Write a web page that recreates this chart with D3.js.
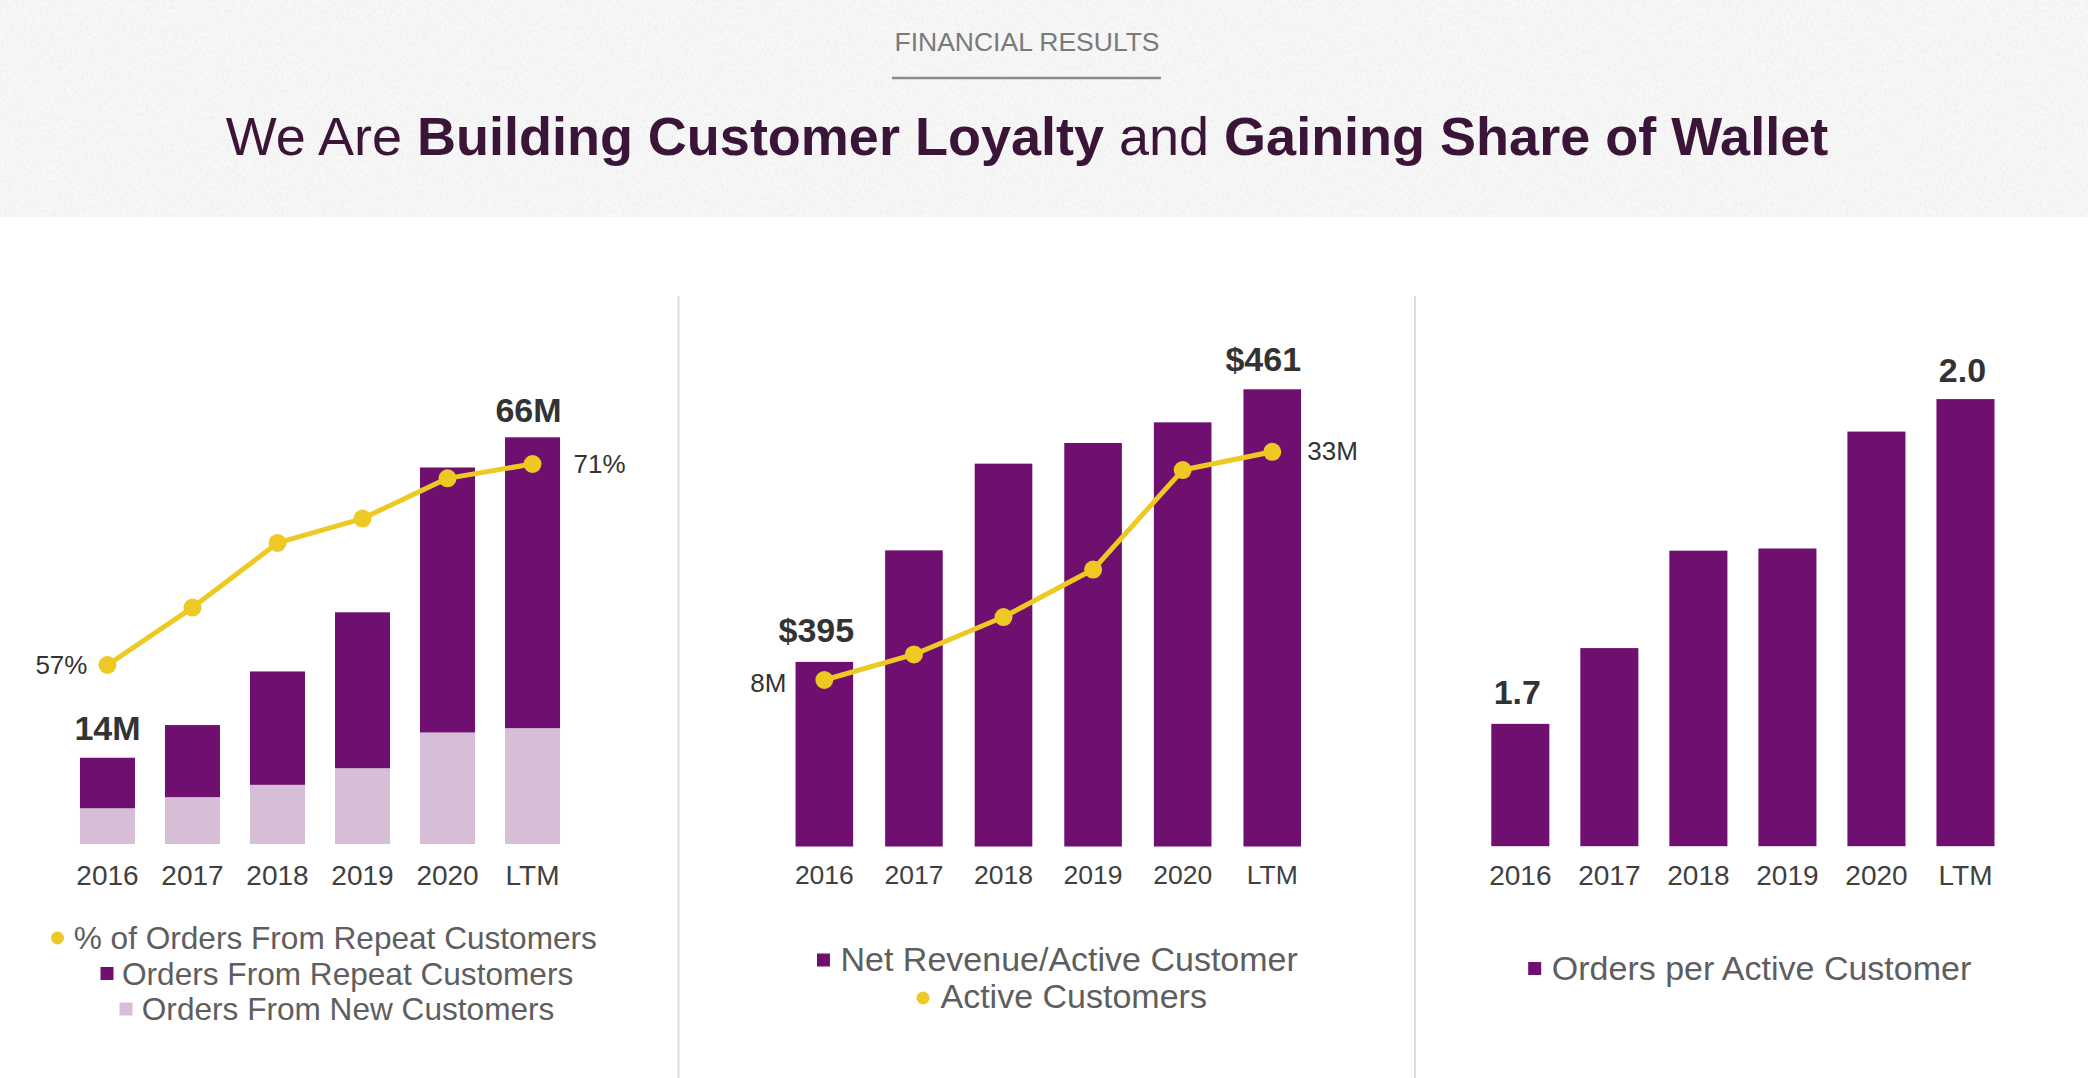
<!DOCTYPE html>
<html>
<head>
<meta charset="utf-8">
<script src="https://cdn.jsdelivr.net/npm/d3@7"></script>
<style>
  html, body { margin: 0; padding: 0; background: #ffffff; }
  svg { display: block; font-family: "Liberation Sans", Arial, Helvetica, sans-serif; }
</style>
</head>
<body>
<svg id="chart" width="2088" height="1078"></svg>
<script>
// ---------- DATA ----------
const years = ["2016", "2017", "2018", "2019", "2020", "LTM"];

// Panel 1: orders (millions) and % from repeat customers
const ordersRepeat = [8.2, 11.7, 18.4, 25.3, 43.0, 47.2];
const ordersNew = [5.8, 7.6, 9.6, 12.3, 18.1, 18.8];
const repeatShare = [57, 61, 65.5, 67.2, 70, 71];
const panel1Labels = { first: "14M", last: "66M", lineFirst: "57%", lineLast: "71%" };
const panel1Legend = ["% of Orders From Repeat Customers", "Orders From Repeat Customers", "Orders From New Customers"];

// Panel 2: net revenue per active customer ($) and active customers (millions)
const netRevenuePerCustomer = [395, 422, 443, 448, 453, 461];
const activeCustomers = [8, 10.8, 14.9, 20.1, 31.0, 33];
const panel2Labels = { first: "$395", last: "$461", lineFirst: "8M", lineLast: "33M" };
const panel2Legend = ["Net Revenue/Active Customer", "Active Customers"];

// Panel 3: orders per active customer
const ordersPerCustomer = [1.70, 1.77, 1.86, 1.862, 1.97, 2.00];
const panel3Labels = { first: "1.7", last: "2.0" };
const panel3Legend = ["Orders per Active Customer"];

// ---------- STYLE ----------
const PURPLE = "#6f0f6f";
const LIGHT = "#d5bed6";
const YELLOW = "#eec924";
const DARK = "#333333";
const AXIS_TXT = "#404040";
const LEGEND_TXT = "#5e5e5e";

const svg = d3.select("#chart");

// ---------- HEADER ----------
const defs = svg.append("defs");
const f = defs.append("filter").attr("id", "noise").attr("x", 0).attr("y", 0).attr("width", "100%").attr("height", "100%");
f.append("feTurbulence").attr("type", "fractalNoise").attr("baseFrequency", "0.45 0.3").attr("numOctaves", 2).attr("seed", 7);
f.append("feColorMatrix").attr("type", "matrix")
  .attr("values", "0 0 0 0 0.6  0 0 0 0 0.6  0 0 0 0 0.6  0.45 0 0 0 -0.19");

svg.append("rect").attr("x", 0).attr("y", 0).attr("width", 2088).attr("height", 217).attr("fill", "#f7f7f7");
svg.append("rect").attr("x", 0).attr("y", 0).attr("width", 2088).attr("height", 217).attr("filter", "url(#noise)");

svg.append("text").attr("x", 1027).attr("y", 50.5).attr("text-anchor", "middle")
  .attr("font-size", 26.5).attr("fill", "#7a7a7a").text("FINANCIAL RESULTS");
svg.append("line").attr("x1", 892).attr("x2", 1161).attr("y1", 78).attr("y2", 78)
  .attr("stroke", "#8c8c8c").attr("stroke-width", 2.5);

const title = svg.append("text").attr("x", 1027).attr("y", 155).attr("text-anchor", "middle")
  .attr("font-size", 54).attr("fill", "#3a1538");
title.append("tspan").text("We Are ");
title.append("tspan").attr("font-weight", "bold").text("Building Customer Loyalty");
title.append("tspan").text(" and ");
title.append("tspan").attr("font-weight", "bold").text("Gaining Share of Wallet");

// ---------- DIVIDERS ----------
[678.5, 1415].forEach(x => {
  svg.append("line").attr("x1", x).attr("x2", x).attr("y1", 296).attr("y2", 1078)
    .attr("stroke", "#dcdcdc").attr("stroke-width", 2);
});

// ---------- HELPERS ----------
function drawAxis(x, y, fontSize) {
  const g = svg.append("g").attr("transform", `translate(0,${y})`)
    .call(d3.axisBottom(x).tickSize(0).tickPadding(19));
  g.select(".domain").remove();
  g.selectAll("text").attr("font-size", fontSize).attr("fill", AXIS_TXT)
    .attr("font-family", '"Liberation Sans", Arial, sans-serif');
}

function drawLine(x, y, values) {
  const pts = years.map((d, i) => [x(d) + x.bandwidth() / 2, y(values[i])]);
  svg.append("path").attr("d", d3.line()(pts)).attr("fill", "none")
    .attr("stroke", YELLOW).attr("stroke-width", 5).attr("stroke-linejoin", "round");
  svg.append("g").selectAll("circle").data(pts).join("circle")
    .attr("cx", d => d[0]).attr("cy", d => d[1]).attr("r", 9).attr("fill", YELLOW);
  return pts;
}

function valueLabel(xPos, yTop, txt) {
  svg.append("text").attr("x", xPos).attr("y", yTop - 18).attr("text-anchor", "middle")
    .attr("font-size", 34).attr("font-weight", "bold").attr("fill", DARK).text(txt);
}

function sideLabel(xPos, yPos, anchor, txt) {
  svg.append("text").attr("x", xPos).attr("y", yPos).attr("dy", "0.36em").attr("text-anchor", anchor)
    .attr("font-size", 26).attr("fill", DARK).text(txt);
}

function legendItem(kind, color, mx, my, tx, baseline, fontSize, txt) {
  if (kind === "dot") {
    svg.append("circle").attr("cx", mx).attr("cy", my).attr("r", 6.5).attr("fill", color);
  } else {
    svg.append("rect").attr("x", mx - 6.5).attr("y", my - 6.5).attr("width", 13).attr("height", 13).attr("fill", color);
  }
  svg.append("text").attr("x", tx).attr("y", baseline).attr("font-size", fontSize)
    .attr("fill", LEGEND_TXT).text(txt);
}

// ---------- PANEL 1 ----------
{
  const x = d3.scaleBand().domain(years).range([65, 575]).paddingInner(0.353).paddingOuter(0.176);
  const y = d3.scaleLinear().domain([0, 66]).range([844, 437.3]);
  const yLine = d3.scaleLinear().domain([57, 71]).range([665, 464]);
  const rows = years.map((d, i) => ({ year: d, nw: ordersNew[i], rep: ordersRepeat[i] }));

  svg.append("g").selectAll("rect.new").data(rows).join("rect")
    .attr("x", d => x(d.year)).attr("width", x.bandwidth())
    .attr("y", d => y(d.nw)).attr("height", d => y(0) - y(d.nw)).attr("fill", LIGHT);
  svg.append("g").selectAll("rect.rep").data(rows).join("rect")
    .attr("x", d => x(d.year)).attr("width", x.bandwidth())
    .attr("y", d => y(d.nw + d.rep)).attr("height", d => y(d.nw) - y(d.nw + d.rep)).attr("fill", PURPLE);

  drawAxis(x, 846, 28);
  const pts = drawLine(x, yLine, repeatShare);

  const n = years.length - 1;
  valueLabel(x(years[0]) + x.bandwidth() / 2, y(ordersNew[0] + ordersRepeat[0]), panel1Labels.first);
  valueLabel(x(years[n]) + x.bandwidth() / 2 - 4, y(ordersNew[n] + ordersRepeat[n]) + 3, panel1Labels.last);
  sideLabel(pts[0][0] - 20, pts[0][1], "end", panel1Labels.lineFirst);
  sideLabel(pts[n][0] + 41, pts[n][1], "start", panel1Labels.lineLast);

  legendItem("dot", YELLOW, 57.5, 938, 73.7, 949, 31.6, panel1Legend[0]);
  legendItem("square", PURPLE, 107, 973.5, 122, 985, 31.6, panel1Legend[1]);
  legendItem("square", LIGHT, 126, 1009, 141.8, 1020, 31.6, panel1Legend[2]);
}

// ---------- PANEL 2 ----------
{
  const x = d3.scaleBand().domain(years).range([779.6, 1317]).paddingInner(0.357).paddingOuter(0.178);
  const y = d3.scaleLinear().domain([350.3, 461]).range([846.5, 389.3]);
  const yLine = d3.scaleLinear().domain([8, 33]).range([680, 451.8]);

  svg.append("g").selectAll("rect").data(years).join("rect")
    .attr("x", d => x(d)).attr("width", x.bandwidth())
    .attr("y", (d, i) => y(netRevenuePerCustomer[i]))
    .attr("height", (d, i) => y.range()[0] - y(netRevenuePerCustomer[i]))
    .attr("fill", PURPLE);

  drawAxis(x, 846, 26.5);
  const pts = drawLine(x, yLine, activeCustomers);

  const n = years.length - 1;
  valueLabel(x(years[0]) + x.bandwidth() / 2 - 8, y(netRevenuePerCustomer[0]) - 2, panel2Labels.first);
  valueLabel(x(years[n]) + x.bandwidth() / 2 - 9, y(netRevenuePerCustomer[n]), panel2Labels.last);
  sideLabel(pts[0][0] - 38, pts[0][1] + 3, "end", panel2Labels.lineFirst);
  sideLabel(pts[n][0] + 35, pts[n][1] - 1, "start", panel2Labels.lineLast);

  legendItem("square", PURPLE, 823.5, 960, 840.5, 971, 34, panel2Legend[0]);
  legendItem("dot", YELLOW, 923, 998, 940.5, 1008, 34, panel2Legend[1]);
}

// ---------- PANEL 3 ----------
{
  const x = d3.scaleBand().domain(years).range([1475.8, 2010]).paddingInner(0.348).paddingOuter(0.174);
  const y = d3.scaleLinear().domain([1.587, 2.0]).range([846.2, 399.1]);

  svg.append("g").selectAll("rect").data(years).join("rect")
    .attr("x", d => x(d)).attr("width", x.bandwidth())
    .attr("y", (d, i) => y(ordersPerCustomer[i]))
    .attr("height", (d, i) => y.range()[0] - y(ordersPerCustomer[i]))
    .attr("fill", PURPLE);

  drawAxis(x, 846, 28);

  const n = years.length - 1;
  valueLabel(x(years[0]) + x.bandwidth() / 2 - 3, y(ordersPerCustomer[0]) - 2, panel3Labels.first);
  valueLabel(x(years[n]) + x.bandwidth() / 2 - 3, y(ordersPerCustomer[n]) + 1, panel3Labels.last);

  legendItem("square", PURPLE, 1534.7, 968.5, 1551.8, 980, 34, panel3Legend[0]);
}
</script>
</body>
</html>
